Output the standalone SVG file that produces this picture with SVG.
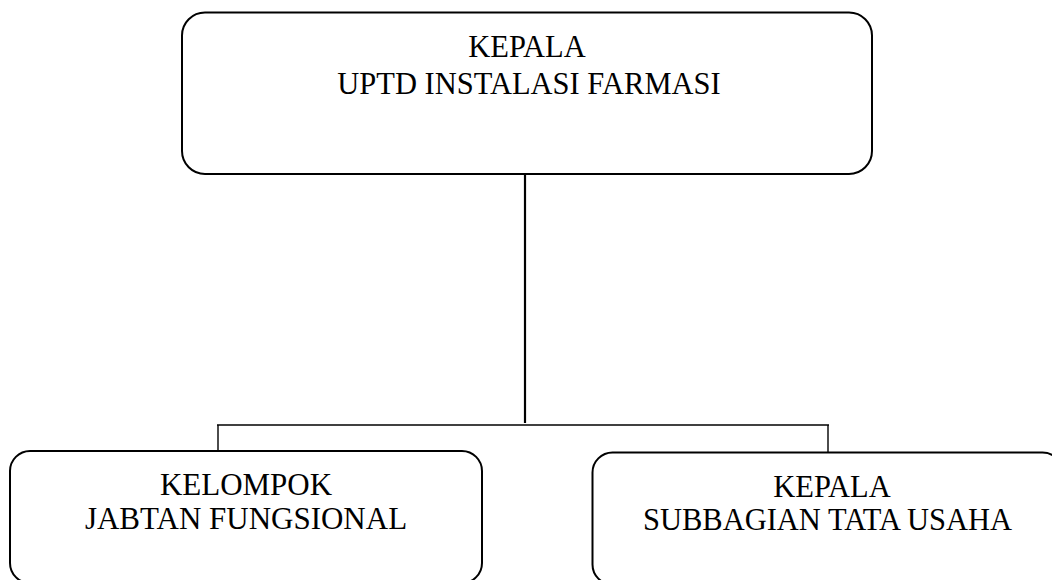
<svg xmlns="http://www.w3.org/2000/svg" width="1052" height="580" viewBox="0 0 1052 580">
<style>
.box{fill:#fff;stroke:#000;stroke-width:2}
.t{font-family:"Liberation Serif","Times New Roman",serif;font-size:30.5px;fill:#000;text-anchor:middle}
.c{stroke:#000;fill:none}
</style>
<rect width="1052" height="580" fill="#fff"/>
<g id="connectors">
<line class="c" x1="525" y1="174" x2="525" y2="423" stroke-width="2.2"/>
<line class="c" x1="217" y1="425" x2="829" y2="425" stroke-width="1.4"/>
<line class="c" x1="218" y1="425" x2="218" y2="451" stroke-width="1.4"/>
<line class="c" x1="828" y1="425" x2="828" y2="452" stroke-width="1.4"/>
</g>
<g id="kepala-uptd">
<rect class="box" x="182" y="12.5" width="690" height="161.5" rx="23" ry="23"/>
<text class="t" x="527" y="57">KEPALA</text>
<text class="t" x="529" y="94">UPTD INSTALASI FARMASI</text>
</g>
<g id="kelompok-jabatan">
<rect class="box" x="10" y="451" width="472" height="132" rx="20" ry="20"/>
<text class="t" x="246" y="495" style="font-size:31px">KELOMPOK</text>
<text class="t" x="246" y="529" style="font-size:31px">JABTAN FUNGSIONAL</text>
</g>
<g id="kepala-subbagian">
<rect class="box" x="592.5" y="452.5" width="470" height="132" rx="20" ry="20"/>
<text class="t" x="832" y="497">KEPALA</text>
<text class="t" x="827.5" y="530">SUBBAGIAN TATA USAHA</text>
</g>
</svg>
